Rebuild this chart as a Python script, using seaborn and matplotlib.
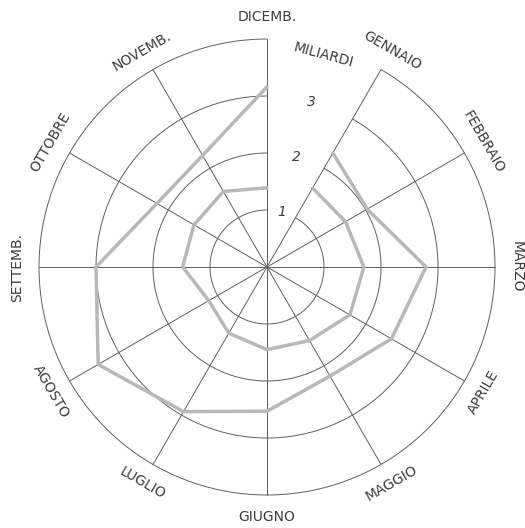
import numpy as np
import pandas as pd
import matplotlib
matplotlib.use("Agg")
import matplotlib.pyplot as plt
import seaborn as sns

# dati (miliardi), da gennaio a dicembre
MESI = ["GENNAIO", "FEBBRAIO", "MARZO", "APRILE", "MAGGIO", "GIUGNO",
        "LUGLIO", "AGOSTO", "SETTEMB.", "OTTOBRE", "NOVEMB.", "DICEMB."]
ANNO_1 = [1.60, 1.59, 1.70, 1.68, 1.49, 1.45, 1.34, 1.18, 1.48, 1.48, 1.53, 1.39]
ANNO_2 = [2.31, 2.03, 2.79, 2.52, 2.21, 2.53, 2.93, 3.42, 3.00, 2.23, 2.26, 3.16]
SCALA = [1, 2, 3]
RMAX = 4

LINE_COL = "#b8b8b8"
GRID_COL = "#5f5f5f"
TEXT_COL = "#3c3c3c"

sns.set_style("white")
plt.rcParams["font.family"] = ["DejaVu Sans"]

fig = plt.figure(figsize=(5.25, 5.28), dpi=100)
ax = fig.add_axes([39 / 525, 33 / 528, 456 / 525, 456 / 528], projection="polar")
ax.set_theta_zero_location("N")
ax.set_theta_direction(-1)
ax.set_ylim(0, RMAX)
ax.axis("off")

theta = np.deg2rad(30 * np.arange(1, 13))

# cerchi (aperti tra dicembre e gennaio)
arc = np.linspace(np.deg2rad(30), np.deg2rad(360), 300)
for k in range(1, RMAX + 1):
    ax.plot(arc, np.full_like(arc, k), color=GRID_COL, lw=0.7, zorder=1, clip_on=False)

# raggi
for t in theta:
    ax.plot([t, t], [0, RMAX], color=GRID_COL, lw=0.7, zorder=1, clip_on=False)

# serie
df = pd.DataFrame({"theta": np.concatenate([theta, theta]),
                   "valore": ANNO_1 + ANNO_2,
                   "anno": ["1"] * 12 + ["2"] * 12})
sns.lineplot(data=df, x="theta", y="valore", units="anno", estimator=None,
             sort=False, color=LINE_COL, lw=2.5, ax=ax, zorder=3)

# etichette dei mesi
for mese, t in zip(MESI, theta):
    phi = (90 - np.rad2deg(t) + 180) % 360 - 180
    if phi == -180:
        phi = 180
    rot = phi - 90 if 0 <= phi <= 180 else phi + 90
    ax.text(t, 4.38, mese, rotation=rot, rotation_mode="anchor",
            ha="center", va="center", fontsize=10, color=TEXT_COL, clip_on=False)

# scala
t_scala = np.deg2rad(15)
for v in SCALA:
    ax.text(t_scala, v, str(v), ha="center", va="center", fontsize=10,
            style="italic", color=TEXT_COL)
ax.text(t_scala, 3.85, "MILIARDI", rotation=-15, rotation_mode="anchor",
        ha="center", va="center", fontsize=10, color=TEXT_COL, clip_on=False)

fig.savefig("out.png", dpi=100, facecolor="white")
